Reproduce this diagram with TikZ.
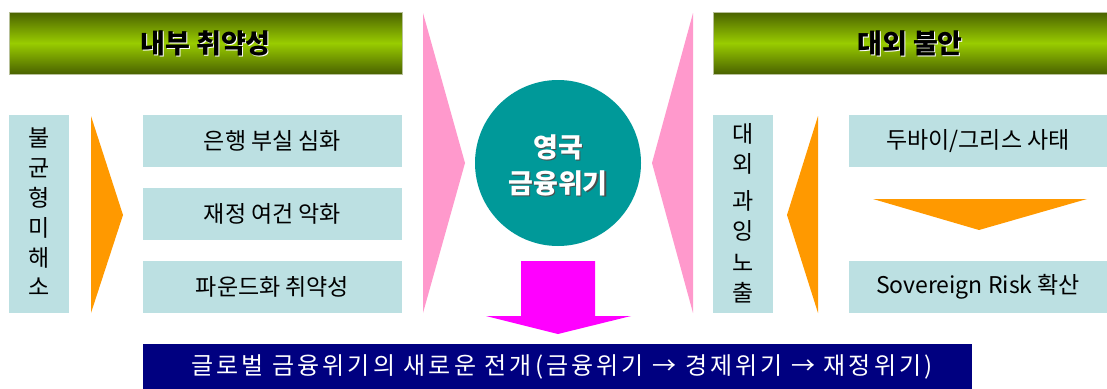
\documentclass[tikz,border=0pt]{standalone}
\usepackage{fontspec}
\setmainfont{Noto Sans CJK KR}
\definecolor{hdark}{HTML}{4A6200}
\definecolor{hbright}{HTML}{99CC00}
\definecolor{lblue}{HTML}{BCE0E2}
\definecolor{orng}{HTML}{FF9900}
\definecolor{pnk}{HTML}{FF99CC}
\definecolor{tealc}{HTML}{009999}
\definecolor{magn}{HTML}{FF00FF}
\definecolor{navyb}{HTML}{000080}
\tikzset{
  header/.style={minimum width=#1, minimum height=62pt, inner sep=0pt,
    top color=hdark, bottom color=hdark, middle color=hbright, draw=hdark!40!white, line width=0.5pt},
  hdtext/.style={font=\fontsize{27}{30}\selectfont\bfseries, text=black},
  hdshadow/.style={font=\fontsize{27}{30}\selectfont\bfseries, text=white},
  bluebox/.style={fill=lblue, minimum width=#1, minimum height=52pt, inner sep=0pt,
    font=\fontsize{23}{26}\selectfont},
  vbox/.style={fill=lblue, minimum width=60pt, minimum height=198pt, inner sep=0pt},
  vtext/.style={align=center, inner sep=0pt},
}
\begin{document}
\begin{tikzpicture}[x=1pt,y=-1pt]
\useasboundingbox (0,0) rectangle (1107,388);
% headers
\node[header=393pt] (hl) at (205.5,43) {};
\node[hdshadow] (hlS) at (206.5,44) {내부 취약성};
\node[hdtext] (hlT) at (205.5,43) {내부 취약성};
\node[header=394pt] (hr) at (910,43) {};
\node[hdshadow] (hrS) at (911,44) {대외 불안};
\node[hdtext] (hrT) at (910,43) {대외 불안};
% left side
\node[vbox] (lv) at (39,214) {};
\node[vtext, font=\fontsize{23}{29.8}\selectfont] (lvt) at (39,212) {불\\균\\형\\미\\해\\소};
\fill[orng] (91,116) -- (123,215) -- (91,313) -- cycle;
\node[bluebox=259pt] (b1) at (272.5,141) {은행 부실 심화};
\node[bluebox=259pt] (b2) at (272.5,214) {재정 여건 악화};
\node[bluebox=259pt] (b3) at (272.5,287) {파운드화 취약성};
% right side
\node[vbox] (rv) at (743,214) {};
\node[vtext, font=\fontsize{23}{30}\selectfont] (rvt) at (743,213) {대\\외\\[7pt]과\\잉\\[2pt]노\\출};
\fill[orng] (818,116) -- (787,215) -- (818,313) -- cycle;
\node[bluebox=258pt] (r1) at (978,141) {두바이/그리스 사태};
\node[bluebox=258pt] (r2) at (978,287) {Sovereign Risk 확산};
\fill[orng] (873,199) -- (1087,199) -- (979,230) -- cycle;
% pink wedges
\fill[pnk] (423,13) -- (465,163) -- (423,313) -- cycle;
\fill[pnk] (693,13) -- (652,163) -- (693,313) -- cycle;
% circle
\node[circle, fill=tealc, minimum size=166pt, inner sep=0pt] (c) at (558,163) {};
\node[align=center, text=black!70, font=\fontsize{27}{36}\selectfont\bfseries] (cS) at (559.2,166.2) {영국\\금융위기};
\node[align=center, text=white, font=\fontsize{27}{36}\selectfont\bfseries] (cT) at (558,165) {영국\\금융위기};
% magenta arrow
\fill[magn] (521,261) -- (595,261) -- (595,316) -- (631,316) -- (558,334) -- (486,316) -- (521,316) -- cycle;
% bottom bar
\node[fill=navyb, minimum width=829pt, minimum height=46pt, inner sep=0pt, anchor=north west] (bar) at (143,344) {};
\node[text=white, font=\fontsize{24}{26}\selectfont\addfontfeature{LetterSpace=13}] (bart) at (562,367) {글로벌 금융위기의 새로운 전개(금융위기 → 경제위기 → 재정위기)};
\end{tikzpicture}
\end{document}
